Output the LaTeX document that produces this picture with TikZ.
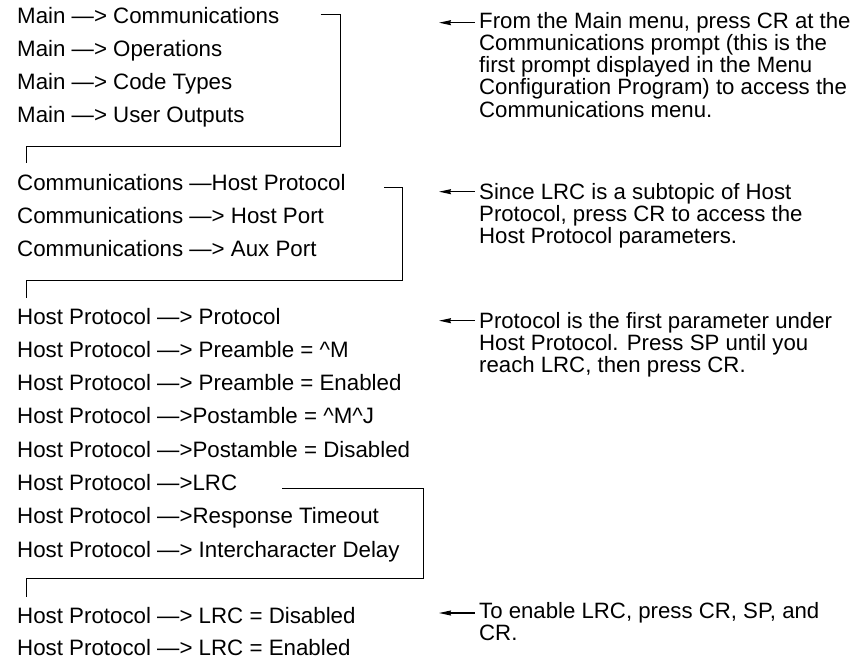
\documentclass[tikz,border=0pt]{standalone}
\usepackage{fontspec}
\setmainfont{Liberation Sans}
\usetikzlibrary{arrows.meta,positioning}

\tikzset{
  item/.style={anchor=base west, inner sep=0pt, font=\fontsize{22.3}{22}\selectfont},
  note/.style={anchor=base west, inner sep=0pt, align=left, font=\fontsize{22.2}{22.2}\selectfont},
  bracket/.style={line width=1pt},
  pointer/.style={line width=1.2pt, {Stealth[length=12pt,width=5pt,inset=1pt]}-},
}

\begin{document}
\begin{tikzpicture}[x=1pt,y=-1pt]
  \useasboundingbox (0,0) rectangle (854,661);
% Main menu
  \node[item] (m1) at (17,23.3) {Main —> Communications};
  \node[item] (m2) at (17,56.3) {Main —> Operations};
  \node[item] (m3) at (17,89.3) {Main —> Code Types};
  \node[item] (m4) at (17,122.3) {Main —> User Outputs};
% Communications menu
  \node[item] (c1) at (17,190) {Communications —Host Protocol};
  \node[item] (c2) at (17,223.3) {Communications —> Host Port};
  \node[item] (c3) at (17,256.6) {Communications —> Aux Port};
% Host Protocol parameters
  \node[item] (h1) at (17,324) {Host Protocol —> Protocol};
  \node[item] (h2) at (17,357.3) {Host Protocol —> Preamble = \textasciicircum M};
  \node[item] (h3) at (17,390.6) {Host Protocol —> Preamble = Enabled};
  \node[item] (h4) at (17,423.9) {Host Protocol —>Postamble = \textasciicircum M\textasciicircum J};
  \node[item] (h5) at (17,457.2) {Host Protocol —>Postamble = Disabled};
  \node[item] (h6) at (17,490.5) {Host Protocol —>LRC};
  \node[item] (h7) at (17,523.8) {Host Protocol —>Response Timeout};
  \node[item] (h8) at (17,557.1) {Host Protocol —> Intercharacter Delay};
% LRC settings
  \node[item] (l1) at (17,623.3) {Host Protocol —> LRC = Disabled};
  \node[item] (l2) at (17,655.8) {Host Protocol —> LRC = Enabled};
% brackets
  \draw[bracket] ([shift={(41,-8.3)}]m1.base east) -- (340.7,15) |- (26,146) -- (26,162.7);
  \draw[bracket] ([shift={(38.4,-2.3)}]c1.base east) -- (402.3,187.7) |- (26,280) -- (26,298.3);
  \draw[bracket] ([shift={(45,-2)}]h6.base east) -- (423.3,488.5) |- (26,578.3) -- (26,597.3);
% notes (placed on the baseline of their last line)
  \node[note] (n1) at (479,117.1) {From the Main menu, press CR at the\\Communications prompt (this is the\\first prompt displayed in the Menu\\Configuration Program) to access the\\Communications menu.};
  \node[note] (n2) at (479,243.4) {Since LRC is a subtopic of Host\\Protocol, press CR to access the\\Host Protocol parameters.};
  \node[note] (n3) at (479,372.4) {Protocol is the first parameter under\\Host Protocol. Press SP until you\\reach LRC, then press CR.};
  \node[note] (n4) at (479,640.5) {To enable LRC, press CR, SP, and\\CR.};
  \draw[pointer] ([shift={(-40,-94.4)}]n1.base west) -- ([shift={(-4,-94.4)}]n1.base west);
  \draw[pointer] ([shift={(-40,-51.7)}]n2.base west) -- ([shift={(-4,-51.7)}]n2.base west);
  \draw[pointer] ([shift={(-40,-51.7)}]n3.base west) -- ([shift={(-4,-51.7)}]n3.base west);
  \draw[pointer] ([shift={(-40,-27.5)}]n4.base west) -- ([shift={(-4,-27.5)}]n4.base west);
\end{tikzpicture}
\end{document}
